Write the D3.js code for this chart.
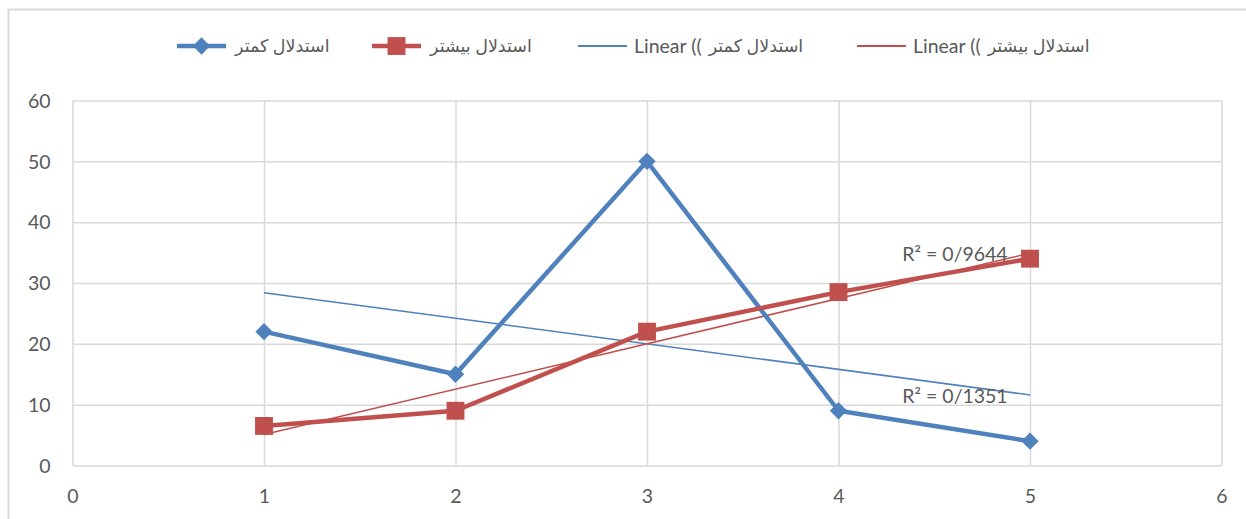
<!DOCTYPE html>
<html>
<head>
<meta charset="utf-8">
<script src="https://cdn.jsdelivr.net/npm/d3@7"></script>
<style>
  html, body { margin: 0; padding: 0; background: #fff; }
  svg { display: block; }
  text { font-family: Lato, "DejaVu Sans", sans-serif; fill: #595959; }
</style>
</head>
<body>
<svg id="chart" width="1246" height="519"></svg>
<script>
// Data
const xValues = [1, 2, 3, 4, 5];
const lessReasoning = [22, 15, 50, 9, 4];     // استدلال کمتر
const moreReasoning = [6.5, 9, 22, 28.5, 34]; // استدلال بیشتر
const xTicks = [0, 1, 2, 3, 4, 5, 6];
const yTicks = [0, 10, 20, 30, 40, 50, 60];
const seriesNames = ["استدلال کمتر", "استدلال بیشتر"];
const trendPrefix = "Linear ((";

const blue = "#4F81BD";
const red = "#C0504D";
const grid = "#d9d9d9";
const latinSize = "19.5px";
const arabicSize = "17.5px";

const svg = d3.select("#chart");

// outer chart frame
svg.append("rect")
  .attr("x", 8.5).attr("y", 9.5)
  .attr("width", 1300).attr("height", 600)
  .attr("fill", "none").attr("stroke", grid).attr("stroke-width", 2);

const plot = { left: 72.5, right: 1221.5, top: 100.5, bottom: 465.5 };

const x = d3.scaleLinear().domain([0, 6]).range([plot.left, plot.right]);
const y = d3.scaleLinear().domain([0, 60]).range([plot.bottom, plot.top]);

// gridlines and tick labels
const yAxis = d3.axisLeft(y).tickValues(yTicks).tickFormat(d3.format("d"))
  .tickSize(-(plot.right - plot.left)).tickPadding(22);
const xAxis = d3.axisBottom(x).tickValues(xTicks).tickFormat(d3.format("d"))
  .tickSize(-(plot.bottom - plot.top)).tickPadding(24);

const gy = svg.append("g").attr("transform", `translate(${plot.left},0)`).call(yAxis);
const gx = svg.append("g").attr("transform", `translate(0,${plot.bottom})`).call(xAxis);
[gx, gy].forEach(g => {
  g.select(".domain").remove();
  g.selectAll(".tick line").attr("stroke", grid).attr("stroke-width", 1.5);
  g.selectAll(".tick text").style("font-size", latinSize)
    .style("font-family", "Lato, sans-serif").attr("fill", "#595959");
});
gy.selectAll(".tick text").attr("dy", "0.35em");
gx.selectAll(".tick text").attr("dy", "0.7em");

// least-squares trendline helper
function fit(xs, ys) {
  const n = xs.length;
  const mx = d3.mean(xs), my = d3.mean(ys);
  let sxy = 0, sxx = 0, syy = 0;
  for (let i = 0; i < n; i++) {
    sxy += (xs[i] - mx) * (ys[i] - my);
    sxx += (xs[i] - mx) ** 2;
    syy += (ys[i] - my) ** 2;
  }
  const slope = sxy / sxx;
  const intercept = my - slope * mx;
  const r2 = (sxy * sxy) / (sxx * syy);
  return { slope, intercept, r2 };
}

// diamond = square turned 45 degrees
const diamondPath = d3.symbol().type(d3.symbolSquare).size(150)();
const squarePath = d3.symbol().type(d3.symbolSquare).size(320)();

const series = [
  { values: lessReasoning, color: blue, path: diamondPath, rot: 45 },
  { values: moreReasoning, color: red, path: squarePath, rot: 0 }
];

const line = d3.line().x(d => x(d[0])).y(d => y(d[1]));

// trendlines
series.forEach(s => {
  const f = fit(xValues, s.values);
  s.fit = f;
  const x0 = d3.min(xValues), x1 = d3.max(xValues);
  svg.append("path")
    .attr("d", line([[x0, f.intercept + f.slope * x0], [x1, f.intercept + f.slope * x1]]))
    .attr("fill", "none").attr("stroke", s.color).attr("stroke-width", 1.6);
});

// series lines and markers
series.forEach(s => {
  const pts = xValues.map((xv, i) => [xv, s.values[i]]);
  svg.append("path")
    .attr("d", line(pts))
    .attr("fill", "none").attr("stroke", s.color)
    .attr("stroke-width", 4.5).attr("stroke-linejoin", "round");
  svg.append("g").selectAll("path").data(pts).join("path")
    .attr("transform", d => `translate(${x(d[0])},${y(d[1])}) rotate(${s.rot})`)
    .attr("d", s.path)
    .attr("fill", s.color);
});

// R² labels
const fmtR2 = v => "R² = " + v.toFixed(4).replace(".", "/");
svg.append("text").attr("x", 955).attr("y", 254).attr("dy", "0.35em")
  .attr("text-anchor", "middle").style("font-size", latinSize)
  .text(fmtR2(series[1].fit.r2));
svg.append("text").attr("x", 955).attr("y", 396).attr("dy", "0.35em")
  .attr("text-anchor", "middle").style("font-size", latinSize)
  .text(fmtR2(series[0].fit.r2));

// legend
const legendY = 46;
const legendItems = [
  { x: 177, color: blue, width: 4.5, path: diamondPath, rot: 45, label: seriesNames[0] },
  { x: 372, color: red, width: 4.5, path: squarePath, rot: 0, label: seriesNames[1] },
  { x: 578, color: blue, width: 2, prefix: trendPrefix, label: seriesNames[0] },
  { x: 857, color: red, width: 2, prefix: trendPrefix, label: seriesNames[1] }
];
legendItems.forEach(it => {
  const g = svg.append("g").attr("transform", `translate(${it.x},${legendY})`);
  g.append("line").attr("x1", 0).attr("x2", 49).attr("y1", 0).attr("y2", 0)
    .attr("stroke", it.color).attr("stroke-width", it.width);
  if (it.path) {
    g.append("path").attr("transform", `translate(24.5,0) rotate(${it.rot})`)
      .attr("d", it.path).attr("fill", it.color);
  }
  let tx = it.prefix ? 56 : 58;
  if (it.prefix) {
    const p = g.append("text").attr("x", tx).attr("y", 0).attr("dy", "0.35em")
      .style("font-size", latinSize).attr("direction", "ltr").text(it.prefix);
    tx += p.node().getComputedTextLength() + 7;
  }
  g.append("text").attr("x", tx).attr("y", 0).attr("dy", "0.35em")
    .style("font-size", arabicSize).attr("direction", "ltr").text(it.label);
});
</script>
</body>
</html>
